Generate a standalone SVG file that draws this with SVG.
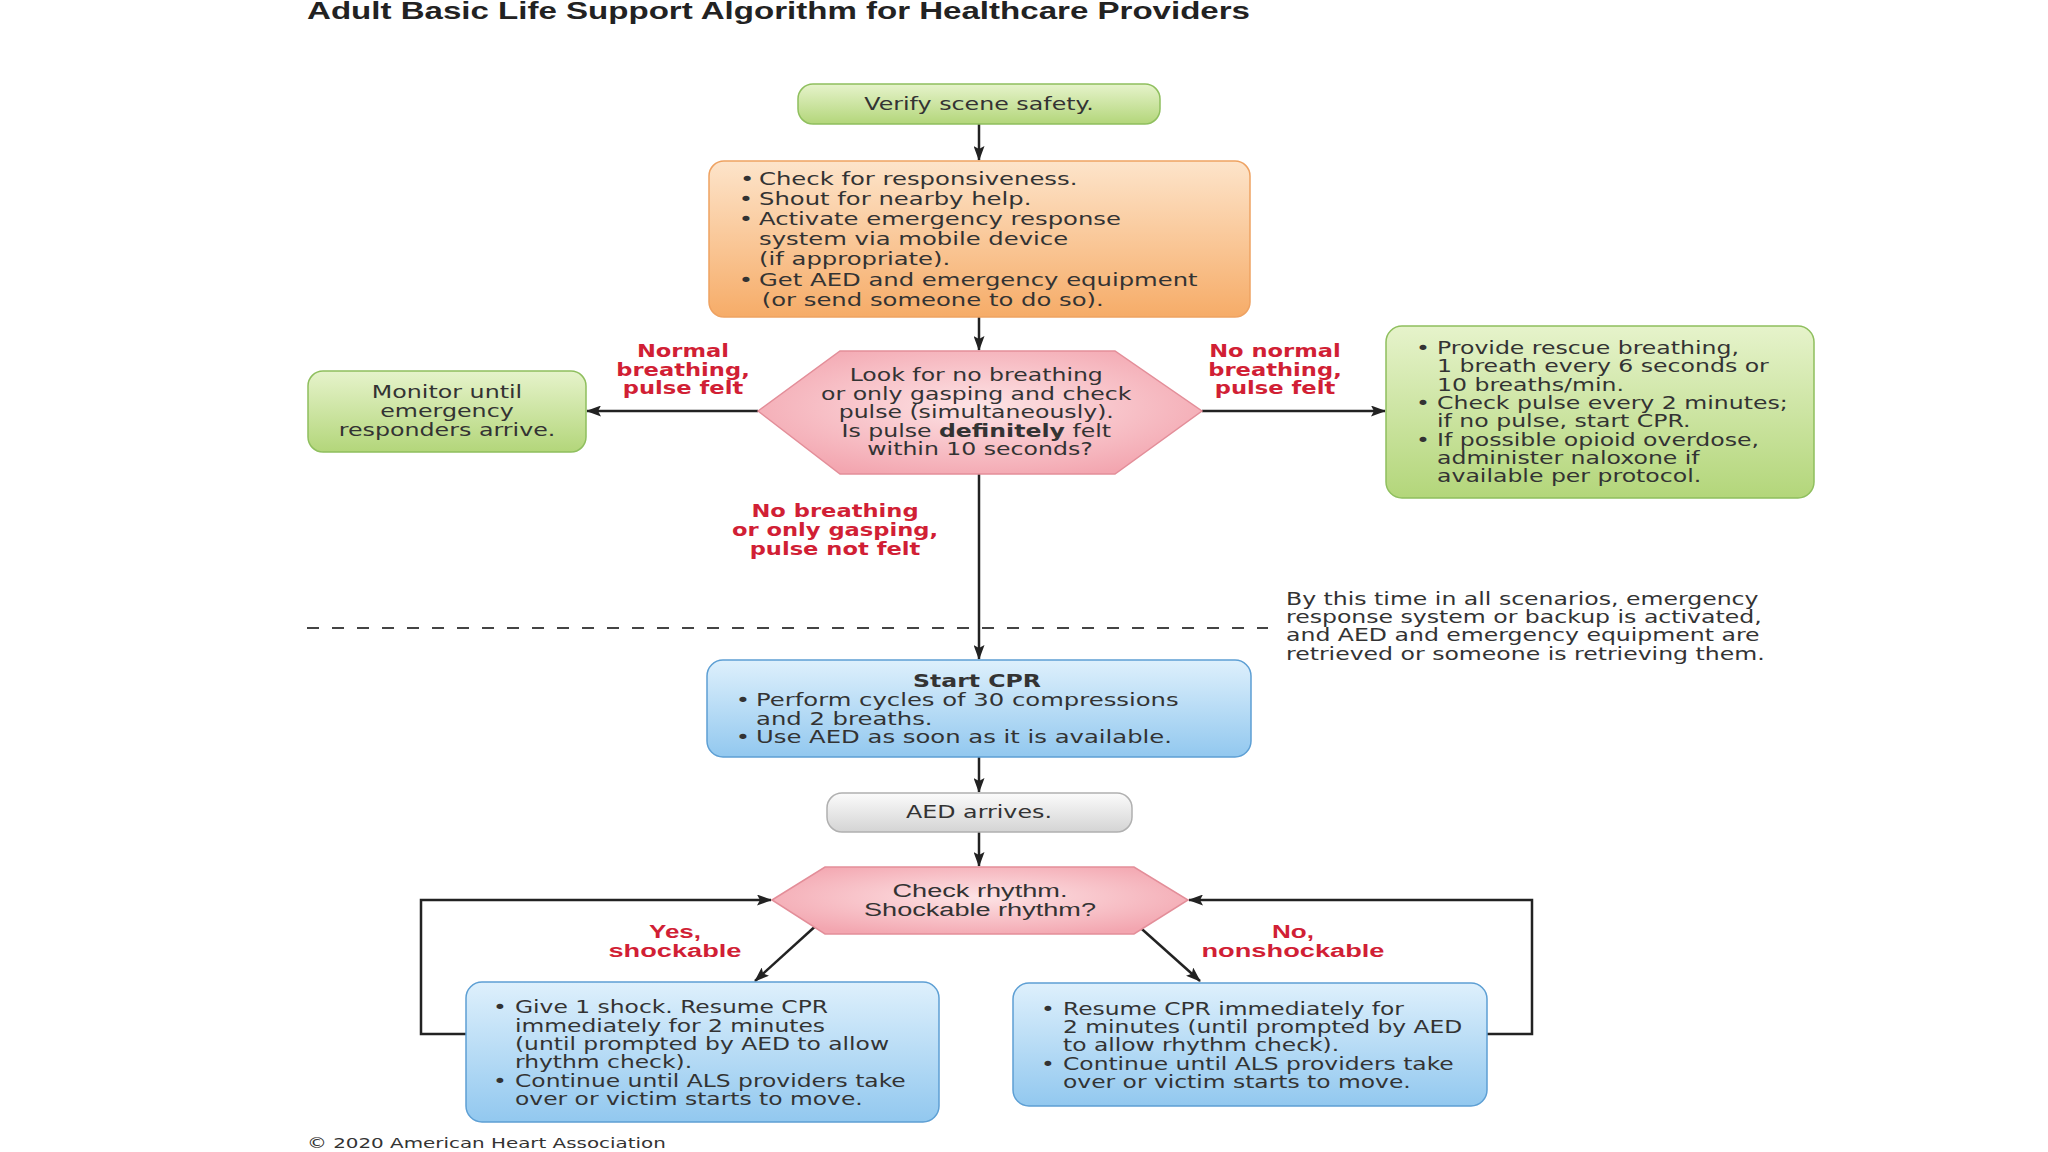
<svg xmlns="http://www.w3.org/2000/svg" width="2048" height="1152" viewBox="0 0 2048 1152">
<defs>
  <linearGradient id="gGreen" x1="0" y1="0" x2="0" y2="1">
    <stop offset="0" stop-color="#e6f3cb"/>
    <stop offset="1" stop-color="#b3d67a"/>
  </linearGradient>
  <linearGradient id="gOrange" x1="0" y1="0" x2="0" y2="1">
    <stop offset="0" stop-color="#fde4ca"/>
    <stop offset="1" stop-color="#f6ac68"/>
  </linearGradient>
  <radialGradient id="gPink" cx="0.5" cy="0.45" r="0.6">
    <stop offset="0" stop-color="#fde3e5"/>
    <stop offset="1" stop-color="#f3a6b0"/>
  </radialGradient>
  <linearGradient id="gBlue" x1="0" y1="0" x2="0" y2="1">
    <stop offset="0" stop-color="#def0fc"/>
    <stop offset="1" stop-color="#92c8ef"/>
  </linearGradient>
  <linearGradient id="gGray" x1="0" y1="0" x2="0" y2="1">
    <stop offset="0" stop-color="#fbfbfb"/>
    <stop offset="1" stop-color="#d4d4d4"/>
  </linearGradient>
  <marker id="ah" viewBox="0 0 15 11" refX="14" refY="5.5" markerWidth="15" markerHeight="11" orient="auto" markerUnits="userSpaceOnUse">
    <path d="M0,0 L15,5.5 L0,11 L3,5.5 Z" fill="#222"/>
  </marker>
  <style>
    .t{font-family:"DejaVu Sans","Liberation Sans",sans-serif;font-size:18px;fill:#333}
    .c{text-anchor:middle}
    .red{font-family:"DejaVu Sans","Liberation Sans",sans-serif;font-size:17px;font-weight:bold;fill:#d11f35;text-anchor:middle}
    .redn{font-family:"Liberation Sans",Arial,sans-serif;font-size:18px;font-weight:bold;fill:#d11f35;text-anchor:middle}
    .conn{stroke:#222;stroke-width:2.5;fill:none}
    .green{fill:url(#gGreen);stroke:#8fbf5e;stroke-width:1.5}
    .blue{fill:url(#gBlue);stroke:#5d9fd4;stroke-width:1.5}
  </style>
</defs>
<rect width="2048" height="1152" fill="#ffffff"/>

<text id="title" x="307" y="19" font-family="Liberation Sans, Arial, sans-serif" font-weight="bold" font-size="23" fill="#222" textLength="943" lengthAdjust="spacingAndGlyphs">Adult Basic Life Support Algorithm for Healthcare Providers</text>

<g id="connectors">
  <line class="conn" x1="979" y1="124" x2="979" y2="160" marker-end="url(#ah)"/>
  <line class="conn" x1="979" y1="317" x2="979" y2="350" marker-end="url(#ah)"/>
  <line class="conn" x1="758" y1="411" x2="587" y2="411" marker-end="url(#ah)"/>
  <line class="conn" x1="1202" y1="411" x2="1385" y2="411" marker-end="url(#ah)"/>
  <line class="conn" x1="979" y1="474" x2="979" y2="659" marker-end="url(#ah)"/>
  <line class="conn" x1="979" y1="757" x2="979" y2="792" marker-end="url(#ah)"/>
  <line class="conn" x1="979" y1="832" x2="979" y2="866" marker-end="url(#ah)"/>
  <line class="conn" x1="820" y1="922" x2="755" y2="981" marker-end="url(#ah)"/>
  <line class="conn" x1="1134" y1="922" x2="1200" y2="981" marker-end="url(#ah)"/>
  <polyline class="conn" points="466,1034 421,1034 421,900 771,900" marker-end="url(#ah)"/>
  <polyline class="conn" points="1487,1034 1532,1034 1532,900 1189,900" marker-end="url(#ah)"/>

  <g id="labels">
    <g transform="translate(683 0) scale(1.33 1)">
      <text class="red"><tspan x="0" y="357">Normal</tspan><tspan x="0" y="376">breathing,</tspan><tspan x="0" y="394">pulse felt</tspan></text>
    </g>
    <g transform="translate(1275 0) scale(1.33 1)">
      <text class="red"><tspan x="0" y="357">No normal</tspan><tspan x="0" y="376">breathing,</tspan><tspan x="0" y="394">pulse felt</tspan></text>
    </g>
    <g transform="translate(835 0) scale(1.33 1)">
      <text class="red"><tspan x="0" y="517">No breathing</tspan><tspan x="0" y="536">or only gasping,</tspan><tspan x="0" y="555">pulse not felt</tspan></text>
    </g>
    <text class="redn" x="675" y="938" textLength="52" lengthAdjust="spacingAndGlyphs">Yes,</text>
    <text class="redn" x="675" y="957" textLength="133" lengthAdjust="spacingAndGlyphs">shockable</text>
    <text class="redn" x="1293" y="938" textLength="42" lengthAdjust="spacingAndGlyphs">No,</text>
    <text class="redn" x="1293" y="957" textLength="183" lengthAdjust="spacingAndGlyphs">nonshockable</text>
  </g>
</g>

<g id="note">
  <line x1="307" y1="628" x2="1268" y2="628" stroke="#444" stroke-width="2.2" stroke-dasharray="12 13"/>
  <g transform="translate(1286 0) scale(1.31 1)">
    <text class="t"><tspan x="0" y="605">By this time in all scenarios, emergency</tspan><tspan x="0" y="623">response system or backup is activated,</tspan><tspan x="0" y="641">and AED and emergency equipment are</tspan><tspan x="0" y="660">retrieved or someone is retrieving them.</tspan></text>
  </g>
</g>

<g id="n-verify">
  <rect class="green" x="798" y="84" width="362" height="40" rx="15"/>
  <g transform="translate(979 0) scale(1.32 1)"><text class="t c" x="0" y="110">Verify scene safety.</text></g>
</g>

<g id="n-check">
  <rect x="709" y="161" width="541" height="156" rx="15" fill="url(#gOrange)" stroke="#eea262" stroke-width="1.5"/>
  <g transform="translate(759 0) scale(1.35 1)">
    <text class="t">
      <tspan x="-14" y="185">•</tspan><tspan x="0" y="185">Check for responsiveness.</tspan>
      <tspan x="-15" y="205">•</tspan><tspan x="0" y="205">Shout for nearby help.</tspan>
      <tspan x="-15" y="225">•</tspan><tspan x="0" y="225">Activate emergency response</tspan>
      <tspan x="0" y="245">system via mobile device</tspan>
      <tspan x="0" y="265">(if appropriate).</tspan>
      <tspan x="-15" y="286">•</tspan><tspan x="0" y="286">Get AED and emergency equipment</tspan>
      <tspan x="2" y="306">(or send someone to do so).</tspan>
    </text>
  </g>
</g>

<g id="n-decide1">
  <polygon points="758,411 840,351 1115,351 1202,411 1115,474 840,474" fill="url(#gPink)" stroke="#e38e99" stroke-width="1.5"/>
  <g transform="translate(980 0) scale(1.31 1)">
    <text class="t c">
      <tspan x="0" y="381">Look for no breathing</tspan>
      <tspan x="0" y="400">or only gasping and check</tspan>
      <tspan x="0" y="418">pulse (simultaneously).</tspan>
      <tspan x="0" y="437">Is pulse <tspan font-weight="bold">definitely</tspan> felt</tspan>
      <tspan x="0" y="455">within 10 seconds?</tspan>
    </text>
  </g>
</g>

<g id="n-monitor">
  <rect class="green" x="308" y="371" width="278" height="81" rx="15"/>
  <g transform="translate(447 0) scale(1.32 1)">
    <text class="t c"><tspan x="0" y="398">Monitor until</tspan><tspan x="0" y="417">emergency</tspan><tspan x="0" y="436">responders arrive.</tspan></text>
  </g>
</g>

<g id="n-rescue">
  <rect class="green" x="1386" y="326" width="428" height="172" rx="16"/>
  <g transform="translate(1437 0) scale(1.31 1)">
    <text class="t">
      <tspan x="-16" y="354">•</tspan><tspan x="0" y="354">Provide rescue breathing,</tspan>
      <tspan x="0" y="372">1 breath every 6 seconds or</tspan>
      <tspan x="0" y="391">10 breaths/min.</tspan>
      <tspan x="-16" y="409">•</tspan><tspan x="0" y="409">Check pulse every 2 minutes;</tspan>
      <tspan x="0" y="427">if no pulse, start CPR.</tspan>
      <tspan x="-16" y="446">•</tspan><tspan x="0" y="446">If possible opioid overdose,</tspan>
      <tspan x="0" y="464">administer naloxone if</tspan>
      <tspan x="0" y="482">available per protocol.</tspan>
    </text>
  </g>
</g>

<g id="n-cpr">
  <rect class="blue" x="707" y="660" width="544" height="97" rx="16"/>
  <g transform="translate(977 0) scale(1.31 1)"><text class="t c" x="0" y="687" font-weight="bold">Start CPR</text></g>
  <g transform="translate(756 0) scale(1.35 1)">
    <text class="t">
      <tspan x="-15" y="706">•</tspan><tspan x="0" y="706">Perform cycles of 30 compressions</tspan>
      <tspan x="0" y="725">and 2 breaths.</tspan>
      <tspan x="-15" y="743">•</tspan><tspan x="0" y="743">Use AED as soon as it is available.</tspan>
    </text>
  </g>
</g>

<g id="n-aed">
  <rect x="827" y="793" width="305" height="39" rx="15" fill="url(#gGray)" stroke="#b0b0b0" stroke-width="1.5"/>
  <g transform="translate(979 0) scale(1.32 1)"><text class="t c" x="0" y="818">AED arrives.</text></g>
</g>

<g id="n-rhythm">
  <polygon points="772,900 825,867 1134,867 1188,900 1134,934 825,934" fill="url(#gPink)" stroke="#e38e99" stroke-width="1.5"/>
  <text x="980" y="897" font-family="Liberation Sans, Arial, sans-serif" font-size="18" fill="#333" text-anchor="middle" textLength="175" lengthAdjust="spacingAndGlyphs">Check rhythm.</text>
  <text x="980" y="916" font-family="Liberation Sans, Arial, sans-serif" font-size="18" fill="#333" text-anchor="middle" textLength="232" lengthAdjust="spacingAndGlyphs">Shockable rhythm?</text>
</g>

<g id="n-shock">
  <rect class="blue" x="466" y="982" width="473" height="140" rx="16"/>
  <g transform="translate(515 0) scale(1.3 1)">
    <text class="t">
      <tspan x="-17" y="1013">•</tspan><tspan x="0" y="1013">Give 1 shock. Resume CPR</tspan>
      <tspan x="0" y="1032">immediately for 2 minutes</tspan>
      <tspan x="0" y="1050">(until prompted by AED to allow</tspan>
      <tspan x="0" y="1068">rhythm check).</tspan>
      <tspan x="-17" y="1087">•</tspan><tspan x="0" y="1087">Continue until ALS providers take</tspan>
      <tspan x="0" y="1105">over or victim starts to move.</tspan>
    </text>
  </g>
</g>

<g id="n-noshock">
  <rect class="blue" x="1013" y="983" width="474" height="123" rx="16"/>
  <g transform="translate(1063 0) scale(1.3 1)">
    <text class="t">
      <tspan x="-17" y="1015">•</tspan><tspan x="0" y="1015">Resume CPR immediately for</tspan>
      <tspan x="0" y="1033">2 minutes (until prompted by AED</tspan>
      <tspan x="0" y="1051">to allow rhythm check).</tspan>
      <tspan x="-17" y="1070">•</tspan><tspan x="0" y="1070">Continue until ALS providers take</tspan>
      <tspan x="0" y="1088">over or victim starts to move.</tspan>
    </text>
  </g>
</g>

<g transform="translate(307 0) scale(1.42 1)">
  <text id="copyright" class="t" x="0" y="1148" style="font-size:14px">© 2020 American Heart Association</text>
</g>
</svg>
